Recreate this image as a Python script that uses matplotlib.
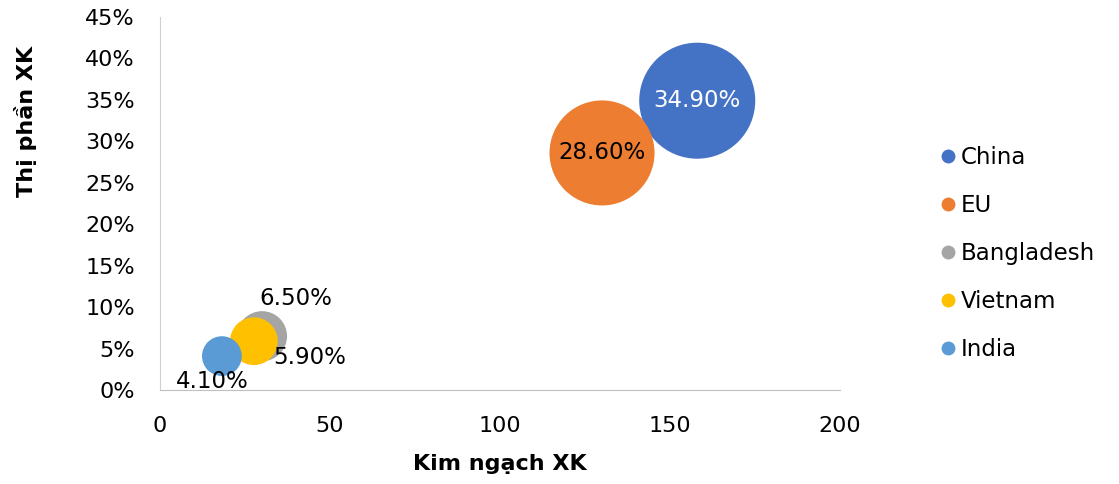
import matplotlib
matplotlib.use("Agg")
import matplotlib.pyplot as plt
from matplotlib.lines import Line2D
from matplotlib.ticker import PercentFormatter

# data
countries = ["China", "EU", "Bangladesh", "Vietnam", "India"]
export_value = [158, 130, 30, 27.6, 18.2]        # Kim ngach XK
market_share = [34.9, 28.6, 6.5, 5.9, 4.1]       # Thi phan XK (%)
labels = ["34.90%", "28.60%", "6.50%", "5.90%", "4.10%"]
colors = ["#4472C4", "#ED7D31", "#A5A5A5", "#FFC000", "#5B9BD5"]
label_colors = ["white", "black", "black", "black", "black"]
label_offsets = [(0, 0), (0, 0), (24, 27), (40, -12), (-7, -18)]

plt.rcParams['font.family'] = ['DejaVu Sans']

fig = plt.figure(figsize=(11.19, 4.84), dpi=100)
ax = fig.add_axes([0.143, 0.194, 0.6077, 0.771])

for i in range(len(countries)):
    ax.scatter(export_value[i], market_share[i], s=market_share[i] * 200,
               color=colors[i], edgecolors='none', zorder=3 + i)
    ax.annotate(labels[i], (export_value[i], market_share[i]),
                xytext=label_offsets[i], textcoords='offset points',
                ha='center', va='center', fontsize=16.5,
                color=label_colors[i], zorder=10)

ax.set_xlim(0, 200)
ax.set_ylim(0, 45)
ax.set_xticks([0, 50, 100, 150, 200])
ax.set_yticks(range(0, 46, 5))
ax.yaxis.set_major_formatter(PercentFormatter(decimals=0))
ax.tick_params(length=0, labelsize=16, pad=18)
ax.tick_params(axis='x', pad=19)

for side in ['top', 'right']:
    ax.spines[side].set_visible(False)
ax.spines['left'].set_color('#d0d0d0')
ax.spines['bottom'].set_color('#bfbfbf')

ax.set_xlabel('Kim ngạch XK', fontsize=16, fontweight='bold')
ax.set_ylabel('Thị phần XK', fontsize=16, fontweight='bold')
ax.xaxis.set_label_coords(0.5, -0.17)
ax.yaxis.set_label_coords(-0.181, 0.72)

handles = [Line2D([], [], marker='o', linestyle='none', markersize=10,
                  markerfacecolor=c, markeredgecolor='none') for c in colors]
fig.legend(handles, countries, loc='upper left', bbox_to_anchor=(0.83, 0.718),
           frameon=False, fontsize=16.5, handletextpad=0.1, labelspacing=1.1,
           handlelength=0.9, borderaxespad=0)

fig.savefig('out.png', dpi=100)
